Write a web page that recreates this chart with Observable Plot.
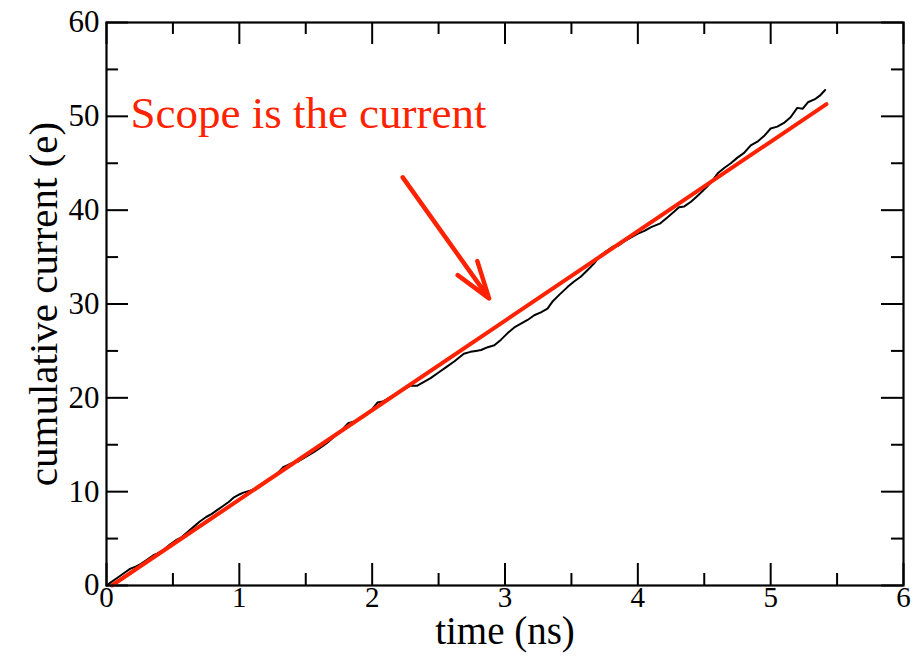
<!DOCTYPE html>
<html>
<head>
<meta charset="utf-8">
<script src="https://cdn.jsdelivr.net/npm/d3@7"></script>
<script src="https://cdn.jsdelivr.net/npm/@observablehq/plot@0.6"></script>
<style>
  html, body { margin: 0; padding: 0; background: #fff; }
  #chart { width: 924px; height: 660px; }
</style>
</head>
<body>
<div id="chart"></div>
<script>
// Cumulative transported charge over simulation time
const timeNs = [
  0, 0.03, 0.08, 0.13, 0.18, 0.22, 0.26, 0.31, 0.35, 0.38,
  0.43, 0.48, 0.52, 0.56, 0.61, 0.66, 0.70, 0.75, 0.79, 0.83,
  0.88, 0.92, 0.96, 1.00, 1.03, 1.08, 1.14, 1.19, 1.24, 1.29,
  1.33, 1.36, 1.39, 1.44, 1.50, 1.56, 1.61, 1.66, 1.71, 1.76,
  1.80, 1.82, 1.89, 1.95, 2.00, 2.04, 2.08, 2.14, 2.20, 2.25,
  2.29, 2.34, 2.39, 2.44, 2.50, 2.56, 2.62, 2.69, 2.74, 2.78,
  2.82, 2.87, 2.92, 2.97, 3.02, 3.07, 3.12, 3.17, 3.22, 3.27,
  3.32, 3.36, 3.41, 3.47, 3.52, 3.57, 3.62, 3.67, 3.72, 3.77,
  3.81, 3.85, 3.90, 3.95, 4.00, 4.05, 4.10, 4.17, 4.22, 4.27,
  4.31, 4.35, 4.40, 4.44, 4.47, 4.52, 4.56, 4.60, 4.65, 4.70,
  4.75, 4.80, 4.85, 4.90, 4.95, 5.00, 5.05, 5.10, 5.15, 5.20,
  5.24, 5.28, 5.33, 5.37, 5.41
];
const chargeE = [
  0, 0.3, 0.8, 1.3, 1.8, 2.0, 2.3, 2.8, 3.2, 3.4,
  3.8, 4.4, 4.8, 5.1, 5.7, 6.3, 6.8, 7.3, 7.6, 8.0,
  8.5, 8.9, 9.4, 9.7, 9.9, 10.1, 10.4, 10.9, 11.4, 12.0,
  12.6, 12.8, 13.0, 13.2, 13.7, 14.2, 14.7, 15.2, 15.8, 16.4,
  17.0, 17.3, 17.6, 18.1, 18.8, 19.5, 19.6, 20.1, 20.6, 21.0,
  21.3, 21.3, 21.7, 22.1, 22.7, 23.3, 23.9, 24.7, 24.9, 25.0,
  25.1, 25.4, 25.6, 26.2, 26.9, 27.5, 27.9, 28.3, 28.8, 29.1,
  29.5, 30.3, 31.0, 31.8, 32.4, 32.9, 33.6, 34.3, 35.2, 35.7,
  36.1, 36.2, 36.7, 37.1, 37.5, 37.8, 38.2, 38.6, 39.2, 39.8,
  40.3, 40.4, 40.9, 41.4, 41.8, 42.5, 43.1, 43.9, 44.5, 45.0,
  45.6, 46.1, 46.9, 47.3, 47.9, 48.7, 48.9, 49.3, 49.9, 50.9,
  50.8, 51.5, 51.8, 52.2, 52.8
];

// Linear fit: its slope is the current
const fitTime = [0.04, 5.42];
const fitCharge = [0, 51.3];

// Annotation and its arrow
const noteText = "Scope is the current";
const noteAt = {x: 0.18, y: 48.8};
const arrowFrom = {x: 2.23, y: 43.5};
const arrowTo = {x: 2.88, y: 30.6};

// Ticks
const xMajor = [0, 1, 2, 3, 4, 5, 6];
const xMinor = [0.5, 1.5, 2.5, 3.5, 4.5, 5.5];
const yMajor = [0, 10, 20, 30, 40, 50, 60];
const yMinor = [5, 15, 25, 35, 45, 55];

const xTitle = "time (ns)";
const yTitle = "cumulative current (e)";

const series = timeNs.map((t, i) => ({t, q: chargeE[i]}));
const fit = fitTime.map((t, i) => ({t, q: fitCharge[i]}));

const W = 924, H = 660;
const mL = 106, mR = 21, mT = 22, mB = 75;
const innerW = W - mL - mR, innerH = H - mT - mB;
const major = 22, minor = 12;
const red = "#ff2200";

const tickStyle = {stroke: "black", strokeWidth: 2};

const chart = Plot.plot({
  width: W,
  height: H,
  marginLeft: mL,
  marginRight: mR,
  marginTop: mT,
  marginBottom: mB,
  style: {fontFamily: "'Liberation Serif', 'DejaVu Serif', serif", background: "#fff", overflow: "visible"},
  x: {domain: [0, 6], axis: null},
  y: {domain: [0, 60], axis: null},
  marks: [
    // inward ticks on all four sides
    Plot.ruleX(xMajor, {x: d => d, insetTop: innerH - major, ...tickStyle}),
    Plot.ruleX(xMinor, {x: d => d, insetTop: innerH - minor, ...tickStyle}),
    Plot.ruleX(xMajor, {x: d => d, insetBottom: innerH - major, ...tickStyle}),
    Plot.ruleX(xMinor, {x: d => d, insetBottom: innerH - minor, ...tickStyle}),
    Plot.ruleY(yMajor, {y: d => d, insetRight: innerW - major, ...tickStyle}),
    Plot.ruleY(yMinor, {y: d => d, insetRight: innerW - minor, ...tickStyle}),
    Plot.ruleY(yMajor, {y: d => d, insetLeft: innerW - major, ...tickStyle}),
    Plot.ruleY(yMinor, {y: d => d, insetLeft: innerW - minor, ...tickStyle}),
    // tick labels
    Plot.text(xMajor, {x: d => d, text: d => String(d), frameAnchor: "bottom", textAnchor: "middle", lineAnchor: "top", dy: 1, fontSize: 29, fill: "black"}),
    Plot.text(yMajor, {y: d => d, text: d => String(d), frameAnchor: "left", textAnchor: "end", dx: -7, fontSize: 31, fill: "black"}),
    // axis titles
    Plot.text([xTitle], {frameAnchor: "bottom", textAnchor: "middle", lineAnchor: "top", dy: 31, fontSize: 39, fill: "black"}),
    Plot.text([yTitle], {frameAnchor: "left", textAnchor: "middle", rotate: -90, dx: -63, fontSize: 41, fill: "black"}),
    // data
    Plot.line(series, {x: "t", y: "q", stroke: "black", strokeWidth: 2}),
    Plot.line(fit, {x: "t", y: "q", stroke: red, strokeWidth: 4}),
    // annotation
    Plot.text([noteText], {x: () => noteAt.x, y: () => noteAt.y, textAnchor: "start", lineAnchor: "bottom", fontSize: 45, fill: red}),
    Plot.arrow([0], {x1: () => arrowFrom.x, y1: () => arrowFrom.y, x2: () => arrowTo.x, y2: () => arrowTo.y, stroke: red, strokeWidth: 4.5, headLength: 13, headAngle: 36}),
    Plot.frame({stroke: "black", strokeWidth: 2.2})
  ]
});
document.getElementById("chart").append(chart);
</script>
</body>
</html>
